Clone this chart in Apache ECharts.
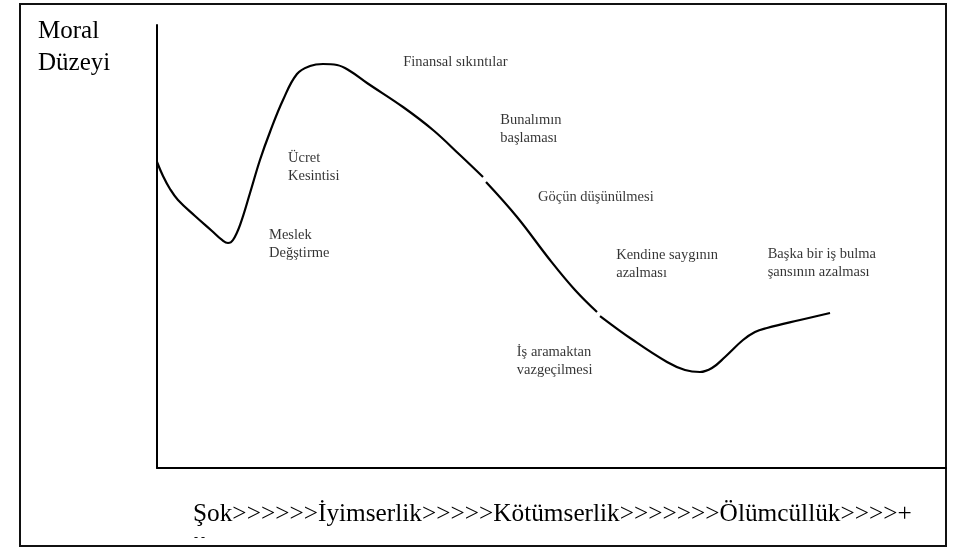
<!doctype html>
<meta charset="utf-8">
<style>
  html, body { margin: 0; padding: 0; width: 100%; height: 100%; background: #fff; }
  #chart { width: 958px; height: 547px; }
</style>
<script src="https://cdn.jsdelivr.net/npm/echarts@6/dist/echarts.min.js"></script>

<div id="chart"></div>

<script>
  const SERIF = '"Liberation Serif", "Times New Roman", serif';

  // the morale curve, in axis units (0-100 on both axes); '-' marks the two small breaks
  const curveX = [0, 0.76, 1.65, 2.66, 4.82, 6.97, 8.24, 9.0, 9.63, 10.52, 11.79, 13.05, 14.32, 15.97,
                  17.74, 19.39, 21.04, 22.81, 24.46, 26.62, 31.18, 34.98, 38.4, 41.32,
                  41.5, 41.7, 45.63, 49.81, 52.98, 55.77,
                  55.95, 56.15, 60.33, 64.64, 66.92, 68.82, 70.34, 71.99, 74.27, 75.79, 77.31, 81.5, 85.3];
  const curveY = [69.07, 65.91, 62.98, 60.5, 56.88, 53.5, 51.47, 50.79, 51.47, 54.85, 62.08, 69.53, 75.85, 83.07,
                  88.94, 90.74, 91.2, 90.97, 89.62, 86.91, 81.49, 76.3, 70.65, 65.69,
                  '-', 64.56, 56.66, 46.95, 40.18, 35.21,
                  '-', 34.31, 28.89, 23.93, 22.12, 21.67, 22.57, 25.06, 28.89, 30.7, 31.6, 33.41, 34.99];

  // stage notes: top-left corner of each text block, in axis units
  const noteText = ['Finansal sıkıntılar', 'Bunalımın\nbaşlaması', 'Ücret\nKesintisi', 'Meslek\nDeğştirme',
                    'Göçün düşünülmesi', 'Kendine saygının\nazalması', 'Başka bir iş bulma\nşansının azalması',
                    'İş aramaktan\nvazgeçilmesi'];
  const noteX = [31.2, 43.5, 16.6, 14.2, 48.3, 58.2, 77.4, 45.6];
  const noteY = [93.7, 80.6, 72.0, 54.6, 63.2, 50.1, 50.3, 28.2];

  const yTitle = 'Moral\nDüzeyi';
  const xTitle = 'Şok>>>>>>İyimserlik>>>>>Kötümserlik>>>>>>>Ölümcüllük>>>>+';

  let chart = echarts.init(document.getElementById('chart'));

  chart.setOption({
    animation: false,
    grid: { left: 157, right: 12, top: 25, bottom: 79 },
    xAxis: {
      type: 'value', min: 0, max: 100,
      axisLine: { show: true, onZero: false, lineStyle: { color: '#000', width: 2 } },
      axisTick: { show: false }, axisLabel: { show: false }, splitLine: { show: false }
    },
    yAxis: {
      type: 'value', min: 0, max: 100,
      axisLine: { show: true, lineStyle: { color: '#000', width: 2 } },
      axisTick: { show: false }, axisLabel: { show: false }, splitLine: { show: false }
    },
    series: [
      {
        type: 'line',
        data: curveX.map((x, i) => [x, curveY[i]]),
        smooth: 0.4,
        showSymbol: false,
        connectNulls: false,
        lineStyle: { color: '#000', width: 2.2 }
      },
      {
        type: 'scatter',
        symbolSize: 0,
        silent: true,
        data: noteX.map((x, i) => ({ value: [x, noteY[i]], name: noteText[i] })),
        label: {
          show: true,
          position: [0, 0],
          align: 'left',
          verticalAlign: 'top',
          formatter: p => p.name,
          fontFamily: SERIF,
          fontSize: 14.5,
          lineHeight: 18,
          color: '#000'
        }
      }
    ],
    graphic: [
      {
        type: 'rect', silent: true,
        shape: { x: 20, y: 4, width: 926, height: 542 },
        style: { fill: 'none', stroke: '#111', lineWidth: 2 }
      },
      {
        type: 'text', left: 38, top: 15,
        style: { text: yTitle, font: '25px ' + SERIF, lineHeight: 32, fill: '#000' }
      },
      {
        type: 'text', left: 193, top: 502,
        style: { text: xTitle, font: '25.3px ' + SERIF, fill: '#000' }
      },
      {
        type: 'text', left: 194, top: 532,
        style: { text: '- -', font: '12px ' + SERIF, fill: '#000' }
      }
    ]
  });
</script>
